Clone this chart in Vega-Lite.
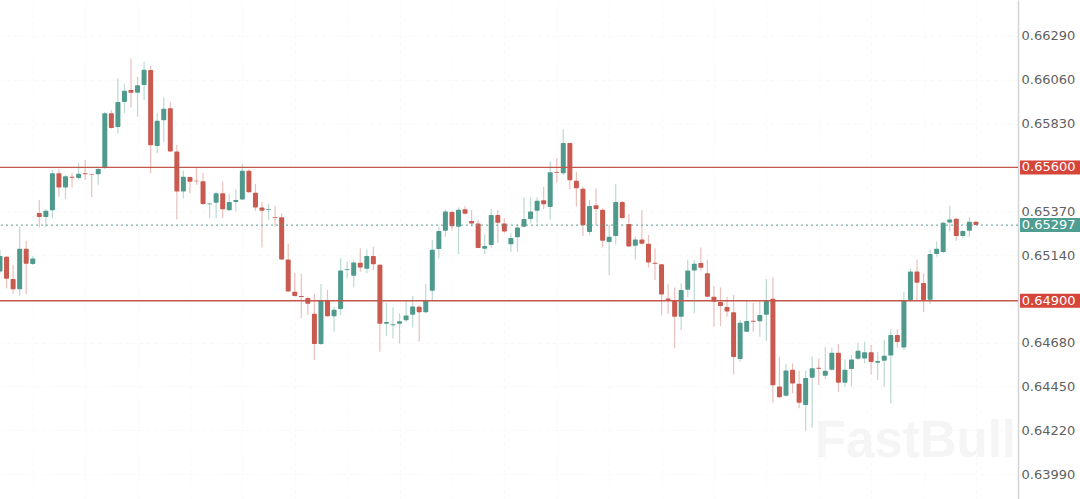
{
  "$schema": "https://vega.github.io/schema/vega-lite/v6.json",
  "width": 1018,
  "height": 499,
  "autosize": {"type": "none"},
  "padding": {"left": 0, "top": 0, "bottom": 0, "right": 62},
  "background": "white",
  "config": {"view": {"stroke": null}},
  "datasets": {
    "candles": [
      {"n":0,"o":0.65053,"h":0.65166,"l":0.65047,"c":0.65135,"dir":"up"},
      {"n":1,"o":0.65131,"h":0.65135,"l":0.64965,"c":0.65016,"dir":"down"},
      {"n":2,"o":0.65014,"h":0.65088,"l":0.64935,"c":0.64960,"dir":"down"},
      {"n":3,"o":0.64960,"h":0.65289,"l":0.64926,"c":0.65173,"dir":"up"},
      {"n":4,"o":0.65173,"h":0.65215,"l":0.64935,"c":0.65094,"dir":"down"},
      {"n":5,"o":0.65093,"h":0.65135,"l":0.65087,"c":0.65122,"dir":"up"},
      {"n":6,"o":0.65360,"h":0.65429,"l":0.65285,"c":0.65340,"dir":"down"},
      {"n":7,"o":0.65340,"h":0.65380,"l":0.65289,"c":0.65373,"dir":"up"},
      {"n":8,"o":0.65375,"h":0.65586,"l":0.65333,"c":0.65569,"dir":"up"},
      {"n":9,"o":0.65569,"h":0.65590,"l":0.65446,"c":0.65495,"dir":"down"},
      {"n":10,"o":0.65495,"h":0.65560,"l":0.65434,"c":0.65553,"dir":"up"},
      {"n":11,"o":0.65551,"h":0.65572,"l":0.65495,"c":0.65546,"dir":"down"},
      {"n":12,"o":0.65544,"h":0.65621,"l":0.65534,"c":0.65567,"dir":"up"},
      {"n":13,"o":0.65569,"h":0.65639,"l":0.65534,"c":0.65564,"dir":"down"},
      {"n":14,"o":0.65564,"h":0.65566,"l":0.65443,"c":0.65562,"dir":"down"},
      {"n":15,"o":0.65564,"h":0.65600,"l":0.65509,"c":0.65592,"dir":"up"},
      {"n":16,"o":0.65597,"h":0.65891,"l":0.65592,"c":0.65884,"dir":"up"},
      {"n":17,"o":0.65884,"h":0.65901,"l":0.65803,"c":0.65807,"dir":"down"},
      {"n":18,"o":0.65812,"h":0.66068,"l":0.65779,"c":0.65943,"dir":"up"},
      {"n":19,"o":0.65943,"h":0.66038,"l":0.65884,"c":0.66003,"dir":"up"},
      {"n":20,"o":0.66006,"h":0.66173,"l":0.65915,"c":0.65992,"dir":"down"},
      {"n":21,"o":0.65992,"h":0.66076,"l":0.65866,"c":0.66031,"dir":"up"},
      {"n":22,"o":0.66033,"h":0.66155,"l":0.65954,"c":0.66113,"dir":"up"},
      {"n":23,"o":0.66111,"h":0.66132,"l":0.65569,"c":0.65716,"dir":"down"},
      {"n":24,"o":0.65712,"h":0.65887,"l":0.65674,"c":0.65845,"dir":"up"},
      {"n":25,"o":0.65847,"h":0.65968,"l":0.65735,"c":0.65908,"dir":"up"},
      {"n":26,"o":0.65910,"h":0.65945,"l":0.65681,"c":0.65684,"dir":"down"},
      {"n":27,"o":0.65684,"h":0.65718,"l":0.65327,"c":0.65474,"dir":"down"},
      {"n":28,"o":0.65474,"h":0.65583,"l":0.65438,"c":0.65551,"dir":"up"},
      {"n":29,"o":0.65550,"h":0.65552,"l":0.65464,"c":0.65525,"dir":"down"},
      {"n":30,"o":0.65530,"h":0.65600,"l":0.65508,"c":0.65527,"dir":"down"},
      {"n":31,"o":0.65527,"h":0.65572,"l":0.65403,"c":0.65408,"dir":"down"},
      {"n":32,"o":0.65406,"h":0.65415,"l":0.65333,"c":0.65411,"dir":"up"},
      {"n":33,"o":0.65415,"h":0.65474,"l":0.65333,"c":0.65464,"dir":"up"},
      {"n":34,"o":0.65464,"h":0.65525,"l":0.65333,"c":0.65380,"dir":"down"},
      {"n":35,"o":0.65375,"h":0.65460,"l":0.65373,"c":0.65418,"dir":"up"},
      {"n":36,"o":0.65418,"h":0.65485,"l":0.65368,"c":0.65429,"dir":"up"},
      {"n":37,"o":0.65431,"h":0.65618,"l":0.65429,"c":0.65583,"dir":"up"},
      {"n":38,"o":0.65583,"h":0.65590,"l":0.65467,"c":0.65469,"dir":"down"},
      {"n":39,"o":0.65467,"h":0.65513,"l":0.65373,"c":0.65390,"dir":"down"},
      {"n":40,"o":0.65389,"h":0.65420,"l":0.65180,"c":0.65373,"dir":"down"},
      {"n":41,"o":0.65376,"h":0.65408,"l":0.65324,"c":0.65380,"dir":"up"},
      {"n":42,"o":0.65339,"h":0.65397,"l":0.65289,"c":0.65336,"dir":"down"},
      {"n":43,"o":0.65338,"h":0.65359,"l":0.65114,"c":0.65117,"dir":"down"},
      {"n":44,"o":0.65117,"h":0.65198,"l":0.64947,"c":0.64949,"dir":"down"},
      {"n":45,"o":0.64947,"h":0.65047,"l":0.64921,"c":0.64925,"dir":"down"},
      {"n":46,"o":0.64925,"h":0.65040,"l":0.64809,"c":0.64919,"dir":"down"},
      {"n":47,"o":0.64914,"h":0.64921,"l":0.64825,"c":0.64884,"dir":"down"},
      {"n":48,"o":0.64832,"h":0.64935,"l":0.64589,"c":0.64673,"dir":"down"},
      {"n":49,"o":0.64673,"h":0.64988,"l":0.64667,"c":0.64902,"dir":"up"},
      {"n":50,"o":0.64904,"h":0.64956,"l":0.64816,"c":0.64818,"dir":"down"},
      {"n":51,"o":0.64818,"h":0.64869,"l":0.64737,"c":0.64853,"dir":"up"},
      {"n":52,"o":0.64856,"h":0.65122,"l":0.64825,"c":0.65059,"dir":"up"},
      {"n":53,"o":0.65063,"h":0.65105,"l":0.65017,"c":0.65066,"dir":"up"},
      {"n":54,"o":0.65031,"h":0.65114,"l":0.64970,"c":0.65101,"dir":"up"},
      {"n":55,"o":0.65100,"h":0.65175,"l":0.65052,"c":0.65075,"dir":"down"},
      {"n":56,"o":0.65068,"h":0.65170,"l":0.65044,"c":0.65135,"dir":"up"},
      {"n":57,"o":0.65135,"h":0.65184,"l":0.65061,"c":0.65091,"dir":"down"},
      {"n":58,"o":0.65089,"h":0.65093,"l":0.64632,"c":0.64779,"dir":"down"},
      {"n":59,"o":0.64779,"h":0.64890,"l":0.64715,"c":0.64788,"dir":"up"},
      {"n":60,"o":0.64771,"h":0.64865,"l":0.64702,"c":0.64776,"dir":"up"},
      {"n":61,"o":0.64779,"h":0.64834,"l":0.64676,"c":0.64792,"dir":"up"},
      {"n":62,"o":0.64797,"h":0.64900,"l":0.64790,"c":0.64823,"dir":"up"},
      {"n":63,"o":0.64827,"h":0.64925,"l":0.64760,"c":0.64870,"dir":"up"},
      {"n":64,"o":0.64869,"h":0.64877,"l":0.64685,"c":0.64839,"dir":"down"},
      {"n":65,"o":0.64839,"h":0.64988,"l":0.64834,"c":0.64902,"dir":"up"},
      {"n":66,"o":0.64953,"h":0.65219,"l":0.64904,"c":0.65168,"dir":"up"},
      {"n":67,"o":0.65171,"h":0.65289,"l":0.65122,"c":0.65266,"dir":"up"},
      {"n":68,"o":0.65268,"h":0.65380,"l":0.65236,"c":0.65369,"dir":"up"},
      {"n":69,"o":0.65366,"h":0.65373,"l":0.65268,"c":0.65291,"dir":"down"},
      {"n":70,"o":0.65289,"h":0.65390,"l":0.65145,"c":0.65378,"dir":"up"},
      {"n":71,"o":0.65380,"h":0.65399,"l":0.65354,"c":0.65357,"dir":"down"},
      {"n":72,"o":0.65319,"h":0.65376,"l":0.65289,"c":0.65306,"dir":"down"},
      {"n":73,"o":0.65305,"h":0.65324,"l":0.65175,"c":0.65177,"dir":"down"},
      {"n":74,"o":0.65173,"h":0.65250,"l":0.65145,"c":0.65187,"dir":"up"},
      {"n":75,"o":0.65192,"h":0.65380,"l":0.65178,"c":0.65350,"dir":"up"},
      {"n":76,"o":0.65350,"h":0.65376,"l":0.65205,"c":0.65310,"dir":"down"},
      {"n":77,"o":0.65306,"h":0.65333,"l":0.65257,"c":0.65263,"dir":"down"},
      {"n":78,"o":0.65196,"h":0.65254,"l":0.65157,"c":0.65229,"dir":"up"},
      {"n":79,"o":0.65233,"h":0.65303,"l":0.65157,"c":0.65285,"dir":"up"},
      {"n":80,"o":0.65289,"h":0.65443,"l":0.65285,"c":0.65329,"dir":"up"},
      {"n":81,"o":0.65329,"h":0.65443,"l":0.65306,"c":0.65369,"dir":"up"},
      {"n":82,"o":0.65373,"h":0.65443,"l":0.65306,"c":0.65425,"dir":"up"},
      {"n":83,"o":0.65427,"h":0.65499,"l":0.65380,"c":0.65406,"dir":"down"},
      {"n":84,"o":0.65392,"h":0.65630,"l":0.65327,"c":0.65574,"dir":"up"},
      {"n":85,"o":0.65576,"h":0.65648,"l":0.65520,"c":0.65572,"dir":"down"},
      {"n":86,"o":0.65569,"h":0.65800,"l":0.65560,"c":0.65728,"dir":"up"},
      {"n":87,"o":0.65728,"h":0.65730,"l":0.65485,"c":0.65532,"dir":"down"},
      {"n":88,"o":0.65530,"h":0.65577,"l":0.65394,"c":0.65490,"dir":"down"},
      {"n":89,"o":0.65488,"h":0.65499,"l":0.65240,"c":0.65296,"dir":"down"},
      {"n":90,"o":0.65261,"h":0.65429,"l":0.65245,"c":0.65397,"dir":"up"},
      {"n":91,"o":0.65401,"h":0.65490,"l":0.65298,"c":0.65382,"dir":"down"},
      {"n":92,"o":0.65378,"h":0.65385,"l":0.65180,"c":0.65215,"dir":"down"},
      {"n":93,"o":0.65208,"h":0.65298,"l":0.65035,"c":0.65236,"dir":"up"},
      {"n":94,"o":0.65240,"h":0.65511,"l":0.65198,"c":0.65418,"dir":"up"},
      {"n":95,"o":0.65418,"h":0.65424,"l":0.65331,"c":0.65334,"dir":"down"},
      {"n":96,"o":0.65303,"h":0.65355,"l":0.65184,"c":0.65185,"dir":"down"},
      {"n":97,"o":0.65189,"h":0.65236,"l":0.65117,"c":0.65222,"dir":"up"},
      {"n":98,"o":0.65222,"h":0.65376,"l":0.65196,"c":0.65199,"dir":"down"},
      {"n":99,"o":0.65199,"h":0.65245,"l":0.65075,"c":0.65101,"dir":"down"},
      {"n":100,"o":0.65100,"h":0.65175,"l":0.65009,"c":0.65094,"dir":"down"},
      {"n":101,"o":0.65091,"h":0.65093,"l":0.64823,"c":0.64933,"dir":"down"},
      {"n":102,"o":0.64912,"h":0.64988,"l":0.64830,"c":0.64904,"dir":"down"},
      {"n":103,"o":0.64904,"h":0.64970,"l":0.64650,"c":0.64816,"dir":"down"},
      {"n":104,"o":0.64816,"h":0.64991,"l":0.64746,"c":0.64956,"dir":"up"},
      {"n":105,"o":0.64958,"h":0.65117,"l":0.64918,"c":0.65059,"dir":"up"},
      {"n":106,"o":0.65059,"h":0.65114,"l":0.64834,"c":0.65094,"dir":"up"},
      {"n":107,"o":0.65098,"h":0.65180,"l":0.65058,"c":0.65073,"dir":"down"},
      {"n":108,"o":0.65044,"h":0.65114,"l":0.64918,"c":0.64921,"dir":"down"},
      {"n":109,"o":0.64921,"h":0.64977,"l":0.64764,"c":0.64895,"dir":"down"},
      {"n":110,"o":0.64893,"h":0.64970,"l":0.64767,"c":0.64872,"dir":"down"},
      {"n":111,"o":0.64867,"h":0.64921,"l":0.64816,"c":0.64844,"dir":"down"},
      {"n":112,"o":0.64839,"h":0.64930,"l":0.64513,"c":0.64604,"dir":"down"},
      {"n":113,"o":0.64594,"h":0.64799,"l":0.64580,"c":0.64785,"dir":"up"},
      {"n":114,"o":0.64737,"h":0.64904,"l":0.64736,"c":0.64793,"dir":"up"},
      {"n":115,"o":0.64795,"h":0.64890,"l":0.64737,"c":0.64790,"dir":"down"},
      {"n":116,"o":0.64792,"h":0.64904,"l":0.64711,"c":0.64825,"dir":"up"},
      {"n":117,"o":0.64827,"h":0.65014,"l":0.64690,"c":0.64904,"dir":"up"},
      {"n":118,"o":0.64911,"h":0.65023,"l":0.64365,"c":0.64456,"dir":"down"},
      {"n":119,"o":0.64450,"h":0.64606,"l":0.64389,"c":0.64393,"dir":"down"},
      {"n":120,"o":0.64401,"h":0.64568,"l":0.64396,"c":0.64534,"dir":"up"},
      {"n":121,"o":0.64538,"h":0.64571,"l":0.64414,"c":0.64466,"dir":"down"},
      {"n":122,"o":0.64464,"h":0.64532,"l":0.64335,"c":0.64365,"dir":"down"},
      {"n":123,"o":0.64352,"h":0.64532,"l":0.64217,"c":0.64494,"dir":"up"},
      {"n":124,"o":0.64496,"h":0.64606,"l":0.64233,"c":0.64545,"dir":"up"},
      {"n":125,"o":0.64548,"h":0.64597,"l":0.64457,"c":0.64543,"dir":"down"},
      {"n":126,"o":0.64506,"h":0.64659,"l":0.64489,"c":0.64532,"dir":"up"},
      {"n":127,"o":0.64538,"h":0.64655,"l":0.64532,"c":0.64627,"dir":"up"},
      {"n":128,"o":0.64627,"h":0.64671,"l":0.64422,"c":0.64470,"dir":"down"},
      {"n":129,"o":0.64470,"h":0.64592,"l":0.64445,"c":0.64538,"dir":"up"},
      {"n":130,"o":0.64541,"h":0.64615,"l":0.64449,"c":0.64592,"dir":"up"},
      {"n":131,"o":0.64596,"h":0.64680,"l":0.64589,"c":0.64638,"dir":"up"},
      {"n":132,"o":0.64597,"h":0.64685,"l":0.64571,"c":0.64629,"dir":"up"},
      {"n":133,"o":0.64629,"h":0.64667,"l":0.64513,"c":0.64578,"dir":"down"},
      {"n":134,"o":0.64575,"h":0.64632,"l":0.64484,"c":0.64583,"dir":"up"},
      {"n":135,"o":0.64585,"h":0.64694,"l":0.64449,"c":0.64611,"dir":"up"},
      {"n":136,"o":0.64613,"h":0.64750,"l":0.64361,"c":0.64720,"dir":"up"},
      {"n":137,"o":0.64720,"h":0.64750,"l":0.64655,"c":0.64683,"dir":"down"},
      {"n":138,"o":0.64655,"h":0.64947,"l":0.64641,"c":0.64902,"dir":"up"},
      {"n":139,"o":0.64904,"h":0.65070,"l":0.64893,"c":0.65054,"dir":"up"},
      {"n":140,"o":0.65054,"h":0.65117,"l":0.64904,"c":0.64995,"dir":"down"},
      {"n":141,"o":0.64993,"h":0.65044,"l":0.64842,"c":0.64904,"dir":"down"},
      {"n":142,"o":0.64905,"h":0.65166,"l":0.64883,"c":0.65145,"dir":"up"},
      {"n":143,"o":0.65145,"h":0.65210,"l":0.65131,"c":0.65173,"dir":"up"},
      {"n":144,"o":0.65156,"h":0.65315,"l":0.65149,"c":0.65310,"dir":"up"},
      {"n":145,"o":0.65311,"h":0.65399,"l":0.65263,"c":0.65327,"dir":"up"},
      {"n":146,"o":0.65331,"h":0.65336,"l":0.65215,"c":0.65240,"dir":"down"},
      {"n":147,"o":0.65240,"h":0.65271,"l":0.65227,"c":0.65266,"dir":"up"},
      {"n":148,"o":0.65268,"h":0.65338,"l":0.65236,"c":0.65315,"dir":"up"},
      {"n":149,"o":0.65315,"h":0.65319,"l":0.65297,"c":0.65297,"dir":"down"}
    ],
    "levels": [{"price": 0.65602}, {"price": 0.64904}],
    "levelTags": [{"price": 0.656}, {"price": 0.649}],
    "last": [{"price": 0.65297}],
    "mark": [{"label": "FastBull"}]
  },
  "encoding": {
    "x": {
      "scale": {"domain": [0, 155.42], "nice": false, "zero": false, "padding": 0},
      "axis": {
        "title": null,
        "grid": true,
        "gridColor": "#f9f9f9",
        "gridDash": [4, 3],
        "domain": false,
        "ticks": false,
        "labels": false,
        "values": [5, 13, 21, 29, 37, 45, 53, 61, 69, 77, 85, 93, 101, 109, 117, 125, 133, 141, 149]
      }
    },
    "y": {
      "scale": {"domain": [0.63859, 0.66479], "nice": false, "zero": false},
      "axis": {
        "title": null,
        "orient": "right",
        "values": [0.6399, 0.6422, 0.6445, 0.6468, 0.6514, 0.6537, 0.6583, 0.6606, 0.6629],
        "format": ".5f",
        "grid": true,
        "gridColor": "#f9f9f9",
        "gridDash": [4, 3],
        "ticks": false,
        "domain": true,
        "domainColor": "#d4d4d4",
        "domainWidth": 1.5,
        "labelFont": "DejaVu Sans",
        "labelFontSize": 13,
        "labelColor": "#5f5f5f",
        "labelPadding": 3
      }
    }
  },
  "layer": [
    {
      "data": {"name": "mark"},
      "mark": {"type": "text", "font": "Liberation Sans", "fontWeight": "bold", "fontSize": 51, "align": "left", "baseline": "alphabetic", "color": "#f5f5f5"},
      "encoding": {
        "x": {"datum": 124.4, "type": "quantitative"},
        "y": {"datum": 0.64079, "type": "quantitative"},
        "text": {"field": "label"}
      }
    },
    {
      "data": {"name": "candles"},
      "mark": {"type": "rule", "strokeWidth": 1.2, "opacity": 0.38},
      "encoding": {
        "x": {"field": "n", "type": "quantitative"},
        "y": {"field": "l", "type": "quantitative"},
        "y2": {"field": "h"},
        "color": {
          "field": "dir",
          "type": "nominal",
          "scale": {"domain": ["up", "down"], "range": ["#4f9a8c", "#c85a50"]},
          "legend": null
        }
      }
    },
    {
      "data": {"name": "candles"},
      "mark": {"type": "bar", "size": 5, "orient": "vertical", "cornerRadius": 1},
      "encoding": {
        "x": {"field": "n", "type": "quantitative"},
        "y": {"field": "o", "type": "quantitative"},
        "y2": {"field": "c"},
        "color": {"field": "dir", "type": "nominal", "legend": null}
      }
    },
    {
      "data": {"name": "last"},
      "mark": {"type": "rule", "color": "#5a9f93", "strokeWidth": 1, "strokeDash": [2, 3]},
      "encoding": {"x": null, "y": {"field": "price", "type": "quantitative"}}
    },
    {
      "data": {"name": "levelTags"},
      "mark": {"type": "rule", "color": "#c4574c", "strokeWidth": 1.4},
      "encoding": {"x": null, "y": {"field": "price", "type": "quantitative"}}
    },
    {
      "data": {"name": "levelTags"},
      "mark": {"type": "rule", "color": "#d5453a", "strokeWidth": 14},
      "encoding": {
        "x": {"datum": 155.73, "type": "quantitative"},
        "x2": {"datum": 165},
        "y": {"field": "price", "type": "quantitative"}
      }
    },
    {
      "data": {"name": "last"},
      "mark": {"type": "rule", "color": "#4f9e91", "strokeWidth": 14},
      "encoding": {
        "x": {"datum": 155.73, "type": "quantitative"},
        "x2": {"datum": 165},
        "y": {"field": "price", "type": "quantitative"}
      }
    },
    {
      "data": {"name": "levelTags"},
      "mark": {"type": "text", "font": "DejaVu Sans", "fontSize": 13, "align": "left", "baseline": "middle", "color": "white"},
      "encoding": {
        "x": {"datum": 156.0, "type": "quantitative"},
        "y": {"field": "price", "type": "quantitative"},
        "text": {"field": "price", "type": "quantitative", "format": ".5f"}
      }
    },
    {
      "data": {"name": "last"},
      "mark": {"type": "text", "font": "DejaVu Sans", "fontSize": 13, "align": "left", "baseline": "middle", "color": "white"},
      "encoding": {
        "x": {"datum": 156.0, "type": "quantitative"},
        "y": {"field": "price", "type": "quantitative"},
        "text": {"field": "price", "type": "quantitative", "format": ".5f"}
      }
    }
  ]
}
